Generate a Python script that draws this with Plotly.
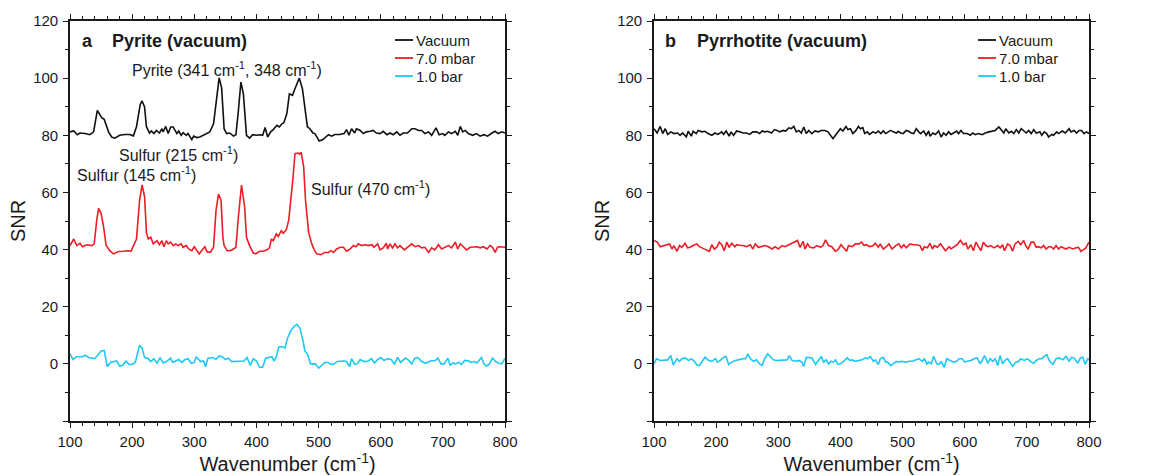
import plotly.graph_objects as go

# ---- Panel a: pyrite ------------------------------------------------------
pyrite_vac_x = [100, 106, 112, 116, 124, 132, 138, 144, 151, 155,
                162, 167, 172, 180, 188, 196, 202, 207, 213, 216,
                220, 223, 228, 231, 235, 239, 244, 248, 250, 254,
                258, 262, 266, 272, 275, 279, 282, 287, 290, 296,
                299, 304, 309, 315, 320, 325, 331, 335, 340, 344,
                348, 352, 357, 363, 367, 371, 375, 379, 384, 389,
                394, 400, 406, 410, 414, 418, 423, 427, 433, 437,
                441, 444, 449, 453, 458, 462, 469, 474, 478, 482,
                486, 491, 494, 497, 501, 507, 512, 516, 521, 526,
                534, 541, 545, 549, 553, 558, 561, 567, 572, 577,
                583, 588, 593, 599, 604, 610, 615, 620, 626, 631,
                636, 643, 650, 655, 661, 666, 671, 677, 682, 689,
                694, 700, 703, 709, 714, 720, 724, 728, 732, 736,
                741, 748, 754, 760, 766, 772, 779, 784, 789, 795, 800]
pyrite_vac_y = [81.2, 81.5, 80.2, 80.8, 80.6, 80.2, 81.2, 88.7, 86.2, 85.6,
                81.2, 79.4, 79.0, 80.0, 80.3, 80.3, 79.8, 83.0, 90.8, 92.0,
                89.9, 83.0, 80.8, 81.5, 80.6, 81.7, 80.8, 82.3, 81.2, 83.1,
                80.6, 82.9, 82.9, 80.6, 81.5, 80.0, 80.9, 80.0, 80.6, 78.5,
                79.7, 79.2, 79.4, 80.0, 80.6, 81.2, 84.0, 92.2, 100.1, 96.6,
                82.3, 80.6, 80.8, 79.7, 80.2, 88.7, 98.6, 94.5, 80.0, 79.0,
                80.2, 80.0, 80.2, 80.0, 82.7, 79.4, 81.2, 82.0, 83.5, 82.9,
                84.0, 84.3, 87.6, 94.5, 94.0, 96.3, 100.0, 96.3, 89.9, 83.0,
                82.3, 80.8, 80.6, 79.4, 78.0, 78.5, 79.4, 80.2, 79.7, 80.3,
                80.3, 80.6, 82.0, 80.0, 82.3, 80.8, 82.3, 81.7, 80.6, 81.2,
                81.4, 81.7, 80.8, 80.6, 81.4, 80.2, 80.8, 80.2, 81.2, 80.0,
                80.8, 80.8, 82.3, 82.3, 81.7, 81.7, 80.6, 81.2, 80.0, 82.6,
                80.2, 80.6, 80.0, 81.2, 80.6, 81.4, 80.0, 83.1, 81.2, 81.7,
                80.6, 80.0, 80.6, 79.7, 80.2, 79.7, 80.8, 81.4, 80.6, 81.2, 80.8]

pyrite_mbar_x = [100, 106, 111, 116, 120, 127, 135, 139, 143, 146,
                 150, 154, 158, 164, 170, 178, 186, 194, 198, 202,
                 207, 212, 216, 220, 223, 226, 230, 234, 240, 244,
                 248, 251, 255, 258, 262, 266, 270, 274, 279, 282,
                 287, 291, 296, 300, 304, 308, 313, 317, 321, 326,
                 331, 335, 339, 343, 346, 348, 353, 358, 363, 367,
                 371, 376, 381, 384, 389, 395, 399, 405, 411, 417,
                 421, 424, 427, 432, 435, 440, 443, 448, 452, 455,
                 459, 462, 467, 469, 472, 476, 479, 484, 489, 493,
                 497, 504, 510, 516, 520, 524, 529, 535, 540, 545,
                 551, 556, 560, 564, 569, 575, 580, 586, 589, 595,
                 599, 604, 609, 611, 615, 619, 623, 627, 631, 638,
                 643, 650, 655, 661, 666, 671, 677, 682, 687, 693,
                 698, 704, 709, 714, 720, 724, 728, 733, 738, 744,
                 749, 755, 760, 765, 771, 776, 780, 784, 788, 792, 800]
pyrite_mbar_y = [41.4, 43.7, 41.4, 42.2, 41.0, 41.7, 41.4, 42.0, 50.3, 54.4,
                 52.7, 48.0, 41.5, 39.6, 38.5, 39.3, 39.4, 39.6, 39.4, 41.4,
                 43.7, 57.3, 62.6, 58.5, 46.0, 43.7, 44.3, 42.0, 43.1, 41.7,
                 43.1, 41.0, 43.1, 42.0, 42.6, 41.4, 42.0, 41.4, 42.0, 40.8,
                 41.4, 40.2, 39.6, 41.0, 39.6, 38.5, 39.9, 41.0, 39.1, 39.1,
                 40.8, 53.8, 59.4, 57.3, 44.3, 41.4, 39.6, 39.6, 40.2, 40.8,
                 51.5, 62.6, 55.0, 44.3, 41.4, 38.8, 38.5, 39.4, 39.4, 39.9,
                 40.6, 43.7, 43.1, 45.5, 44.6, 46.6, 45.7, 46.9, 50.3, 56.2,
                 65.5, 73.6, 73.8, 73.4, 74.0, 69.0, 57.3, 46.0, 42.0, 39.9,
                 38.5, 38.2, 39.0, 39.0, 39.6, 39.0, 40.2, 40.8, 40.8, 39.4,
                 40.2, 41.4, 41.0, 42.0, 41.4, 41.7, 41.4, 41.7, 40.8, 42.0,
                 39.9, 40.6, 42.2, 40.2, 42.0, 40.6, 42.0, 40.6, 41.4, 39.9,
                 40.8, 42.0, 41.0, 41.4, 40.6, 40.8, 39.0, 40.6, 39.9, 41.7,
                 40.2, 40.8, 41.4, 40.6, 42.6, 40.2, 42.0, 41.0, 39.9, 40.8,
                 40.8, 41.0, 40.6, 41.0, 40.2, 41.4, 40.8, 39.0, 40.8, 41.0, 40.8]

pyrite_bar_x = [100, 105, 110, 120, 125, 130, 140, 150, 155, 160,
                165, 175, 180, 185, 190, 195, 200, 205, 212, 216,
                220, 225, 230, 235, 240, 245, 250, 255, 262, 265,
                270, 275, 280, 285, 290, 295, 300, 303, 310, 315,
                318, 322, 330, 335, 340, 345, 350, 355, 360, 370,
                380, 385, 390, 395, 400, 405, 410, 415, 420, 425,
                428, 432, 436, 442, 446, 450, 455, 460, 465, 470,
                475, 478, 482, 487, 495, 500, 505, 510, 515, 520,
                525, 530, 540, 545, 550, 553, 558, 562, 567, 573,
                580, 585, 590, 595, 600, 605, 612, 617, 622, 627,
                632, 640, 645, 650, 655, 660, 665, 672, 680, 688,
                692, 697, 702, 708, 712, 716, 720, 725, 730, 735,
                742, 745, 750, 755, 762, 766, 770, 775, 780, 785,
                790, 795, 800]
pyrite_bar_y = [3.5, 1.5, 2.5, 2.5, 3.0, 2.2, 1.8, 4.5, 4.7, -1.0,
                0.5, 1.0, -0.8, -0.5, 1.0, -0.2, -0.2, 0.5, 6.5, 5.5,
                2.2, 2.0, 0.8, 1.8, 0.2, 2.2, 0.3, 0.8, 2.0, 0.5,
                1.0, 1.5, 0.5, 1.5, 1.8, 0.2, 0.5, 2.5, 0.8, 1.0,
                -1.0, 2.0, 2.2, 1.5, 2.8, 2.5, 1.5, 2.0, 0.8, 0.8,
                1.0, 2.2, -0.5, 1.8, 1.0, -1.2, -1.2, 2.0, 2.2, 2.5,
                1.0, 2.5, 6.0, 6.0, 5.5, 9.0, 11.5, 13.0, 13.8, 12.5,
                8.0, 4.5, 3.5, 0.0, 0.0, -1.5, -0.5, 0.5, 0.5, -0.2,
                0.0, 0.8, 1.0, 0.8, -1.0, 1.8, -0.2, 0.0, 1.5, 0.8,
                1.0, 1.8, 0.3, 1.5, 2.2, 1.2, 1.8, 1.5, -0.2, 2.3,
                0.5, 2.0, 1.2, 0.0, 2.0, 2.2, 1.0, 0.2, 1.0, 1.2,
                2.0, 0.0, 0.0, 2.0, -0.5, 0.3, 0.0, 0.5, -0.2, 1.2,
                1.0, 0.5, 0.8, 0.3, 2.2, 0.0, -0.8, 0.0, 2.0, 0.8,
                0.2, 0.0, 2.0]

# ---- Panel b: pyrrhotite --------------------------------------------------
pyrr_vac_x = [100, 105, 110, 114, 118, 122, 127, 132, 138, 142,
              146, 152, 155, 160, 163, 168, 171, 177, 182, 187,
              193, 198, 203, 209, 212, 216, 221, 224, 228, 233,
              238, 243, 249, 254, 259, 265, 270, 274, 278, 283,
              289, 294, 298, 302, 308, 312, 317, 321, 325, 329,
              333, 337, 341, 345, 349, 354, 359, 364, 369, 375,
              380, 384, 388, 392, 396, 400, 404, 409, 412, 416,
              420, 425, 429, 432, 436, 439, 443, 447, 452, 457,
              461, 465, 469, 473, 477, 481, 485, 490, 493, 497,
              501, 506, 509, 514, 518, 522, 526, 529, 534, 538,
              542, 544, 549, 553, 558, 562, 566, 570, 574, 578,
              582, 587, 590, 594, 598, 604, 609, 613, 617, 622,
              628, 633, 639, 644, 649, 655, 658, 663, 666, 671,
              675, 679, 683, 687, 691, 695, 699, 703, 707, 711,
              715, 721, 724, 728, 732, 735, 740, 743, 748, 751,
              757, 762, 768, 771, 776, 780, 784, 788, 792, 796, 800]
pyrr_vac_y = [82.3, 80.8, 83.1, 80.6, 82.3, 80.3, 81.2, 80.6, 80.8, 80.0,
              80.8, 79.4, 81.4, 79.7, 81.4, 80.6, 81.7, 81.2, 81.4, 80.6,
              80.0, 80.8, 80.3, 81.2, 80.3, 81.5, 79.7, 81.2, 80.0, 81.5,
              81.2, 80.8, 80.8, 80.3, 81.2, 81.2, 80.6, 81.5, 81.2, 81.4,
              80.8, 82.0, 81.7, 81.2, 81.7, 81.5, 82.6, 82.3, 83.1, 81.2,
              81.7, 80.8, 82.9, 80.6, 81.7, 80.6, 81.5, 81.2, 81.7, 81.7,
              81.2, 80.0, 78.8, 80.0, 81.2, 82.3, 81.5, 83.1, 82.0, 82.3,
              80.6, 81.7, 83.1, 82.3, 82.7, 80.6, 81.2, 80.3, 81.2, 80.8,
              81.5, 80.6, 81.5, 80.6, 81.2, 81.7, 81.2, 80.8, 81.4, 80.8,
              80.6, 81.7, 81.5, 80.8, 80.6, 82.3, 81.2, 80.6, 81.5, 80.0,
              81.5, 79.7, 80.8, 80.3, 81.5, 79.4, 80.8, 80.0, 81.2, 80.3,
              80.8, 81.5, 80.6, 81.7, 80.6, 80.6, 80.0, 80.8, 80.2, 80.6,
              80.2, 80.8, 81.2, 81.4, 81.7, 82.9, 82.0, 80.8, 82.3, 80.8,
              81.4, 80.6, 82.0, 80.8, 82.3, 81.5, 80.8, 81.7, 80.6, 82.0,
              80.8, 81.2, 80.0, 81.2, 80.6, 79.4, 80.3, 80.0, 81.2, 80.6,
              81.5, 80.8, 82.3, 81.2, 81.7, 80.8, 81.7, 81.7, 80.6, 81.2, 80.6]

pyrr_mbar_x = [100, 105, 110, 115, 120, 125, 129, 132, 137, 141,
               145, 150, 154, 158, 163, 169, 173, 178, 184, 189,
               193, 197, 201, 205, 209, 213, 217, 221, 225, 230,
               233, 239, 244, 249, 255, 259, 263, 268, 274, 279,
               284, 290, 295, 300, 306, 311, 317, 322, 327, 331,
               335, 340, 343, 347, 351, 357, 362, 368, 372, 376,
               381, 386, 392, 397, 401, 405, 410, 413, 419, 424,
               430, 434, 438, 442, 447, 453, 456, 461, 464, 469,
               474, 478, 483, 489, 494, 498, 502, 506, 512, 517,
               522, 528, 532, 535, 540, 544, 548, 551, 556, 561,
               565, 569, 575, 578, 583, 588, 593, 598, 602, 605,
               610, 614, 618, 621, 626, 630, 634, 638, 642, 647,
               653, 657, 661, 664, 669, 673, 677, 681, 686, 690,
               695, 698, 702, 707, 711, 715, 718, 723, 727, 731,
               735, 739, 743, 747, 751, 755, 759, 763, 768, 774,
               779, 783, 787, 792, 795, 800]
pyrr_mbar_y = [43.2, 42.6, 41.0, 41.4, 41.7, 42.0, 40.2, 41.4, 39.4, 41.4,
               40.8, 42.2, 40.6, 40.8, 41.4, 42.0, 41.0, 40.6, 39.9, 39.4,
               41.7, 40.2, 40.8, 42.6, 41.7, 39.6, 42.6, 40.8, 42.2, 41.0,
               41.7, 41.4, 41.4, 41.0, 41.7, 40.2, 42.0, 40.8, 41.0, 41.4,
               41.0, 40.2, 41.0, 40.2, 41.4, 41.0, 41.7, 42.2, 42.6, 43.2,
               40.8, 42.9, 40.2, 42.0, 40.8, 40.6, 41.4, 40.8, 41.4, 43.4,
               41.4, 41.0, 39.4, 40.2, 41.7, 40.8, 39.4, 41.4, 41.0, 42.0,
               42.0, 42.6, 41.4, 41.7, 41.0, 41.4, 42.2, 40.8, 42.0, 40.2,
               41.0, 42.0, 40.2, 41.4, 42.0, 40.6, 41.7, 40.6, 42.0, 41.7,
               41.7, 41.4, 39.6, 41.0, 40.6, 42.2, 40.2, 41.4, 40.8, 42.0,
               40.8, 39.6, 41.0, 40.2, 41.0, 41.7, 43.2, 41.7, 42.2, 40.2,
               41.7, 39.6, 42.6, 41.4, 39.6, 42.6, 41.4, 41.0, 41.4, 40.6,
               41.4, 40.6, 41.7, 39.6, 42.0, 41.4, 39.4, 42.0, 42.9, 41.7,
               43.2, 41.4, 40.2, 42.6, 42.6, 40.8, 41.0, 40.6, 41.4, 40.2,
               41.0, 41.0, 40.2, 41.4, 40.2, 41.0, 40.6, 40.2, 40.8, 40.2,
               40.6, 40.8, 39.4, 40.2, 40.6, 42.6]

pyrr_bar_x = [100, 104, 110, 115, 122, 127, 131, 137, 141, 145,
              150, 156, 160, 165, 169, 173, 177, 182, 188, 193,
              199, 202, 207, 212, 216, 220, 225, 231, 236, 242,
              247, 251, 255, 260, 265, 270, 274, 278, 283, 287,
              292, 298, 303, 309, 314, 318, 322, 327, 333, 338,
              341, 345, 350, 354, 360, 364, 369, 373, 377, 381,
              385, 389, 392, 396, 400, 405, 411, 415, 419, 424,
              430, 435, 440, 444, 448, 453, 456, 461, 464, 469,
              473, 476, 481, 486, 490, 494, 499, 505, 510, 516,
              521, 526, 532, 535, 539, 542, 546, 550, 555, 559,
              562, 567, 571, 576, 582, 587, 591, 596, 600, 604,
              610, 615, 620, 625, 629, 632, 637, 641, 645, 649,
              653, 657, 661, 665, 669, 673, 677, 682, 687, 690,
              696, 701, 707, 711, 715, 720, 724, 728, 732, 736,
              742, 747, 752, 758, 763, 768, 772, 776, 782, 786,
              790, 794, 798, 800]
pyrr_bar_y = [0.0, 1.8, 1.2, 1.2, 1.4, 2.9, -0.4, 1.8, 0.9, 1.8,
              2.1, 1.2, 1.8, 0.9, -0.4, -0.6, 0.6, 2.3, 1.2, 0.9,
              1.8, 0.6, 1.2, 2.3, 2.6, -0.2, 0.6, 1.2, 1.4, 1.8,
              1.8, 3.3, 1.8, 0.9, 1.4, 0.0, -0.6, 1.8, 3.5, 2.6,
              1.4, 1.2, 1.2, 1.2, 1.4, 2.9, 1.2, 0.9, 1.2, 0.6,
              -0.9, 2.3, 2.3, 2.1, -0.2, 0.9, 2.6, 0.6, 1.4, 0.0,
              0.9, 0.6, 1.4, -0.2, 0.0, 0.9, 2.1, 1.2, 1.4, 0.9,
              1.2, 1.4, 2.1, 1.8, 2.6, 0.9, 1.4, -0.2, 1.8, 2.3,
              0.6, 0.6, -0.6, 0.2, 0.9, 0.6, 0.9, 0.6, 0.9, 0.9,
              1.4, 1.8, 0.9, 1.8, 0.0, 0.6, 0.0, 2.6, 0.0, -0.2,
              0.9, -1.2, 1.8, 1.2, 0.6, 0.9, 1.8, 1.8, 0.6, 0.9,
              1.2, 1.8, 2.1, 0.0, 1.8, 2.9, 0.2, 1.8, 0.9, 1.8,
              -0.6, 2.9, 0.0, 1.2, 1.8, 0.6, -0.9, 0.6, 0.9, 1.8,
              1.2, 1.8, 0.6, 0.2, 1.2, 1.8, 1.8, 2.6, 3.2, 1.2,
              -0.2, 1.8, 2.1, 1.4, 2.6, 0.9, 2.3, 2.1, 0.2, 2.1,
              2.3, -0.2, 1.8, 1.4]

series_names = ["Vacuum", "7.0 mbar", "1.0 bar"]
series_colors = ["#111111", "#ee1c24", "#1ec8f5"]

y_tickvals = [-20, 0, 20, 40, 60, 80, 100, 120]
y_ticktext = ["", "0", "20", "40", "60", "80", "100", "120"]
x_tickvals = [100, 200, 300, 400, 500, 600, 700, 800]

FONT = "Liberation Sans, Arial, Helvetica, sans-serif"
INK = "#1a1a1a"
W, H = 1160, 476

fig = go.Figure()

panels = [
    ("x", "y", [(pyrite_vac_x, pyrite_vac_y), (pyrite_mbar_x, pyrite_mbar_y), (pyrite_bar_x, pyrite_bar_y)]),
    ("x2", "y2", [(pyrr_vac_x, pyrr_vac_y), (pyrr_mbar_x, pyrr_mbar_y), (pyrr_bar_x, pyrr_bar_y)]),
]
for xa, ya, data in panels:
    for name, color, (xs, ys) in zip(series_names, series_colors, data):
        fig.add_trace(go.Scatter(
            x=xs, y=ys, mode="lines", name=name, showlegend=False,
            line=dict(color=color, width=1.6),
            xaxis=xa, yaxis=ya,
        ))

axis_common = dict(
    showline=True, linecolor=INK, linewidth=1.6, mirror="ticks",
    ticks="outside", ticklen=5, tickwidth=1.4, tickcolor=INK,
    showgrid=False, zeroline=False, automargin=False,
    tickfont=dict(family=FONT, size=15, color=INK),
)
x_common = dict(axis_common, range=[100, 800], tickvals=x_tickvals, ticklabelstandoff=1,
                minor=dict(dtick=20, tick0=100, ticks="outside", ticklen=3,
                           tickwidth=1.2, tickcolor=INK),
                title=dict(text="Wavenumber (cm<sup>-1</sup>)",
                           font=dict(family=FONT, size=20, color=INK), standoff=5))
y_common = dict(axis_common, range=[-20, 120], tickvals=y_tickvals, ticktext=y_ticktext,
                ticklabelstandoff=2,
                minor=dict(dtick=10, tick0=0, ticks="outside", ticklen=3,
                           tickwidth=1.2, tickcolor=INK),
                title=dict(text="SNR", font=dict(family=FONT, size=20, color=INK), standoff=2))

ydom = [1 - 421 / H, 1 - 21 / H]
fig.update_layout(
    width=W, height=H,
    margin=dict(l=0, r=0, t=0, b=0, autoexpand=False),
    paper_bgcolor="white", plot_bgcolor="white",
    font=dict(family=FONT, color=INK),
    xaxis=dict(x_common, domain=[70 / W, 505 / W], anchor="y"),
    yaxis=dict(y_common, domain=ydom, anchor="x"),
    xaxis2=dict(x_common, domain=[654 / W, 1089 / W], anchor="y2"),
    yaxis2=dict(y_common, domain=ydom, anchor="x2"),
    showlegend=False,
)

# Legend keys: short coloured strokes with labels, top right of each panel
legend_font = dict(family=FONT, size=15, color=INK)
shapes = []
annotations = []
for key_left in (395, 978):
    for i, (name, color) in enumerate(zip(series_names, series_colors)):
        yk = 1 - (40 + 18 * i) / H
        shapes.append(dict(type="line", xref="paper", yref="paper",
                           x0=key_left / W, x1=(key_left + 18) / W, y0=yk, y1=yk,
                           line=dict(color=color, width=1.8)))
        annotations.append(dict(x=(key_left + 19) / W, y=yk, xref="paper", yref="paper",
                                text=name, xanchor="left", yanchor="middle",
                                showarrow=False, font=legend_font))

label_font = dict(family=FONT, size=16, color=INK)
bold_font = dict(family=FONT, size=18, color=INK)
annotations += [
    dict(x=116, y=113.1, xref="x", yref="y", text="<b>a</b>", xanchor="left", font=bold_font),
    dict(x=164, y=113.1, xref="x", yref="y", text="<b>Pyrite (vacuum)</b>", xanchor="left", font=bold_font),
    dict(x=352, y=103.2, xref="x", yref="y", text="Pyrite (341 cm<sup>-1</sup>, 348 cm<sup>-1</sup>)", font=label_font),
    dict(x=274, y=73.5, xref="x", yref="y", text="Sulfur (215 cm<sup>-1</sup>)", font=label_font),
    dict(x=207, y=66.5, xref="x", yref="y", text="Sulfur (145 cm<sup>-1</sup>)", font=label_font),
    dict(x=584, y=61.5, xref="x", yref="y", text="Sulfur (470 cm<sup>-1</sup>)", font=label_font),
    dict(x=115, y=113.1, xref="x2", yref="y2", text="<b>b</b>", xanchor="left", font=bold_font),
    dict(x=166, y=113.1, xref="x2", yref="y2", text="<b>Pyrrhotite (vacuum)</b>", xanchor="left", font=bold_font),
]
for a in annotations:
    a["showarrow"] = False
fig.update_layout(annotations=annotations, shapes=shapes)

fig.write_html("out.html")
